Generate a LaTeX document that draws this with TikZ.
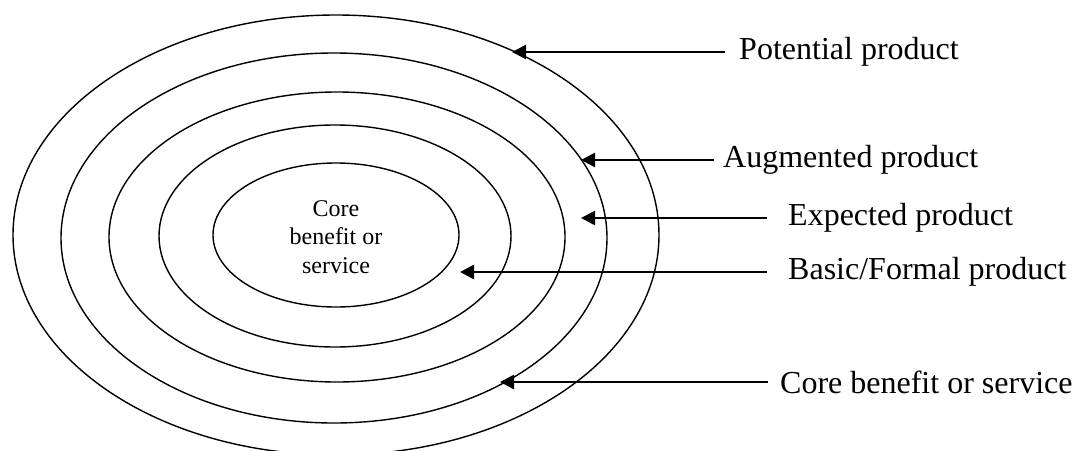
\documentclass[tikz,border=0pt]{standalone}
\usepackage{fontspec}
\setmainfont{Liberation Serif}
\usetikzlibrary{arrows.meta}
\begin{document}
\begin{tikzpicture}[x=1pt,y=-1pt,
  ring/.style={draw=black,line width=1.4pt},
  pointer/.style={draw=black,line width=2.6pt,-{Triangle[length=14pt,width=14pt]}},
  lbl/.style={anchor=west,inner ysep=0pt,font=\fontsize{32}{38}\selectfont}]
\useasboundingbox (0,0) rectangle (1078,450);
% concentric product levels
\draw[ring] (336,235) ellipse [x radius=323pt, y radius=220pt];
\draw[ring] (334,238) ellipse [x radius=273pt, y radius=185pt];
\draw[ring] (337,237) ellipse [x radius=228pt, y radius=145pt];
\draw[ring] (335,236) ellipse [x radius=176pt, y radius=111pt];
\draw[ring] (336,235) ellipse [x radius=123pt, y radius=72pt];
\node[align=center,font=\fontsize{24}{28.5}\selectfont] (core) at (336,237)
  {Core\\benefit or\\service};
% arrow tips
\coordinate (tpot) at (512,52);
\coordinate (taug) at (581,160);
\coordinate (texp) at (581,218);
\coordinate (tbas) at (460,272);
\coordinate (tcor) at (500,382);
% labels
\node[lbl,inner xsep=14pt] (lpot) at (725,52) {Potential product};
\node[lbl,inner xsep=9pt] (laug) at (714,160) {Augmented product};
\node[lbl,inner xsep=21pt] (lexp) at (767,218) {Expected product};
\node[lbl,inner xsep=21pt] (lbas) at (767,272) {Basic/Formal product};
\node[lbl,inner xsep=12pt] (lcor) at (768,382) {Core benefit or service};
\draw[pointer] (lpot.west) -- (tpot);
\draw[pointer] (laug.west) -- (taug);
\draw[pointer] (lexp.west) -- (texp);
\draw[pointer] (lbas.west) -- (tbas);
\draw[pointer] (lcor.west) -- (tcor);
\end{tikzpicture}
\end{document}
